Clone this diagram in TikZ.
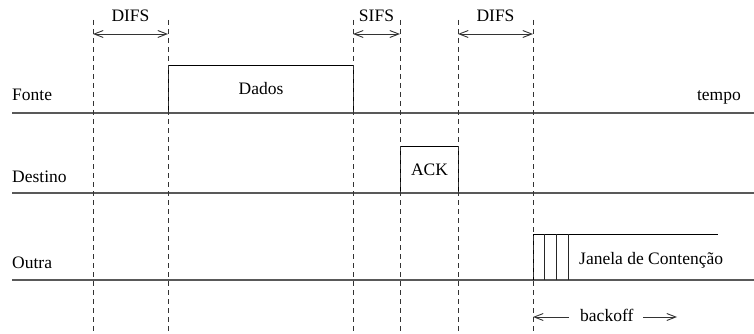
\documentclass[tikz,border=0pt]{standalone}
\usepackage{fontspec}
\setmainfont{Liberation Serif}
\usetikzlibrary{arrows.meta}
\begin{document}
\begin{tikzpicture}[x=1pt,y=-1pt,
  font=\rmfamily\fontsize{17.5}{21}\selectfont,
  timeline/.style={draw=black!65,line width=1.3pt},
  guide/.style={draw=black!80,line width=0.9pt,dash pattern=on 5pt off 4pt},
  boxnode/.style={draw=black,line width=1.1pt,inner sep=0pt,anchor=south west},
  span/.style={draw=black!80,line width=0.9pt,{Straight Barb[length=9pt,width=7pt]}-{Straight Barb[length=9pt,width=7pt]}},
  onearrow/.style={draw=black!80,line width=0.9pt,-{Straight Barb[length=9pt,width=7pt]}},
  lbl/.style={inner sep=0pt}]
\useasboundingbox (0,0) rectangle (754,334);

% boxes
\node[boxnode,minimum width=185pt,minimum height=47pt] (dados) at (168,113) {Dados};
\node[boxnode,minimum width=58pt,minimum height=46pt] (ack) at (400,193) {ACK};

% timelines
\coordinate (f0) at (12,113); \coordinate (f1) at (754,113);
\coordinate (d0) at (12,193); \coordinate (d1) at (754,193);
\coordinate (o0) at (12,280); \coordinate (o1) at (754,280);
\draw[timeline] (f0) -- (f1);
\draw[timeline] (d0) -- (d1);
\draw[timeline] (o0) -- (o1);

% row labels
\node[lbl,anchor=base west] (fonte) at (12,101) {Fonte};
\node[lbl,anchor=base west] (destino) at (12,182) {Destino};
\node[lbl,anchor=base west] (outra) at (12,268) {Outra};
\node[lbl,anchor=base east] (tempo) at (741,100) {tempo};

% contention window
\coordinate (w0) at (533,234); \coordinate (w1) at (718,234);
\coordinate (w0b) at (533,280);
\draw[line width=1pt] (w0b) -- (w0) -- (w1);
\foreach \n/\x in {s1/544.5,s2/556.5,s3/568.5}{
  \coordinate (\n t) at (\x,234);
  \coordinate (\n b) at (\x,280);
  \draw[line width=0.9pt,draw=black!85] (\n t) -- (\n b);
}
\node[lbl,anchor=base west] (janela) at (579,264) {Janela de Contenção};

% dashed guides
\foreach \n/\x in {a/93,b/168,c/353,d/400,e/458,g/533}{
  \coordinate (\n t) at (\x,20);
  \coordinate (\n b) at (\x,334);
  \coordinate (\n m) at (\x,34);
  \draw[guide] (\n t) -- (\n b);
}

% interval arrows and labels
\draw[span] (am) -- (bm);
\draw[span] (cm) -- (dm);
\draw[span] (em) -- (gm);
\node[lbl,anchor=base] (difs1) at (130.5,22) {DIFS};
\node[lbl,anchor=base] (sifs) at (376.5,22) {SIFS};
\node[lbl,anchor=base] (difs2) at (495.5,22) {DIFS};

% backoff
\node[lbl,anchor=base west] (backoff) at (580,321) {backoff};
\coordinate (bk0) at (533,317); \coordinate (bk1) at (569,317);
\coordinate (bk2) at (643,317); \coordinate (bk3) at (677,317);
\draw[onearrow] (bk1) -- (bk0);
\draw[onearrow] (bk2) -- (bk3);
\end{tikzpicture}
\end{document}
